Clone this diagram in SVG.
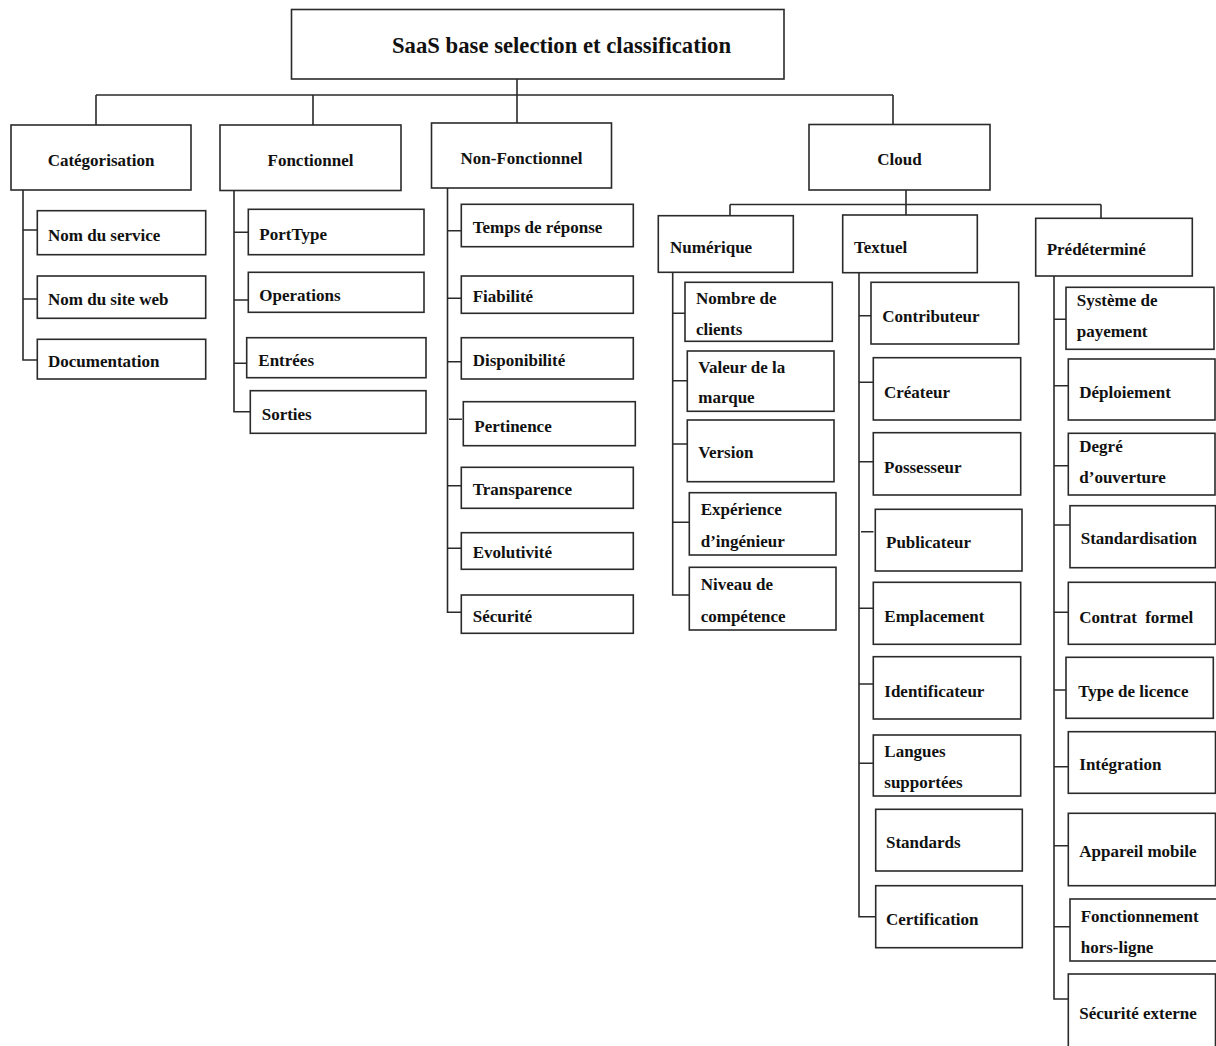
<svg xmlns="http://www.w3.org/2000/svg" width="1216" height="1046" viewBox="0 0 1216 1046">
  <style>
    .box { fill: #ffffff; stroke: #2a2a2a; stroke-width: 1.6; }
    .lbl { font-family: "Liberation Serif", "Times New Roman", serif; font-weight: bold; font-size: 17px; fill: #111111; }
    .mid { text-anchor: middle; }
    .title { font-size: 22.7px; }
    .conn { fill: none; stroke: #2a2a2a; stroke-width: 1.6; }
  </style>
  <rect width="1216" height="1046" fill="#ffffff"/>

  <!-- tree connectors -->
  <g id="connectors" class="conn">
    <path d="M517 79 V95 M96 95 H893 M96 95 V125 M313 95 V125 M517 95 V123 M893 95 V124.5"/>
    <!-- Catégorisation -->
    <path d="M23 190 V360 H37.3 M23 230 H37.3 M23 299 H37.3"/>
    <!-- Fonctionnel -->
    <path d="M234 191 V411.7 H250.3 M234 232.3 H248.3 M234 300 H248.3 M234 363.3 H246.7"/>
    <!-- Non-Fonctionnel -->
    <path d="M447.5 188 V612.3 H461.3 M447.5 230.7 H461.3 M447.5 298.3 H461.3 M447.5 361.7 H461.3 M449 419.3 H462 M447.5 485.7 H461.3 M447.5 548.3 H461.3"/>
    <!-- Cloud -->
    <path d="M906 190 V204.5 M730 204.5 H1101 M730 204.5 V215.7 M906 204.5 V215 M1101 204.5 V218.3"/>
    <!-- Numérique -->
    <path d="M672.7 272.3 V595 H689.3 M672.7 313.3 H685 M672.7 380.7 H687.3 M672.7 444 H687.3 M672.7 522.3 H689.3"/>
    <!-- Textuel -->
    <path d="M859 272.7 V916.7 H875.7 M859 315.7 H871 M859 382.3 H873.3 M859 461.7 H873.3 M861 531.7 H873.5 M859 608.3 H873.3 M859 684 H873.3 M859 763.3 H873.3"/>
    <!-- Prédéterminé -->
    <path d="M1054 276 V999 H1068.3 M1054 319.3 H1066 M1054 385.7 H1068.3 M1054 465.7 H1068.3 M1054 525 H1070 M1054 612.3 H1068.3 M1054 690 H1066 M1054 766.7 H1068.3 M1054 845.7 H1068.3 M1054 926.7 H1070"/>
  </g>

  <!-- root -->
  <g id="root">
    <rect class="box" x="291.5" y="9.5" width="492.5" height="69.5"/>
    <text class="lbl title" x="392" y="53">SaaS base selection et classification</text>
  </g>

  <!-- first level -->
  <g id="categorisation">
    <rect class="box" x="11" y="125" width="180" height="65"/>
    <text class="lbl mid" x="101" y="166">Catégorisation</text>
  </g>
  <g id="fonctionnel">
    <rect class="box" x="220" y="125" width="181" height="65.5"/>
    <text class="lbl mid" x="310.5" y="166">Fonctionnel</text>
  </g>
  <g id="non-fonctionnel">
    <rect class="box" x="431.5" y="123" width="180" height="65"/>
    <text class="lbl mid" x="521.5" y="164">Non-Fonctionnel</text>
  </g>
  <g id="cloud">
    <rect class="box" x="809" y="124.5" width="181" height="65.5"/>
    <text class="lbl mid" x="899.5" y="165">Cloud</text>
  </g>

  <!-- Cloud sub-categories -->
  <g id="numerique">
    <rect class="box" x="658.3" y="215.7" width="135" height="56.6"/>
    <text class="lbl" x="670" y="252.7">Numérique</text>
  </g>
  <g id="textuel">
    <rect class="box" x="842.7" y="215" width="134.6" height="57.7"/>
    <text class="lbl" x="854" y="252.7">Textuel</text>
  </g>
  <g id="predetermine">
    <rect class="box" x="1035.7" y="218.3" width="156.6" height="57.7"/>
    <text class="lbl" x="1046.7" y="255">Prédéterminé</text>
  </g>

  <!-- Catégorisation leaves -->
  <g id="nom-service">
    <rect class="box" x="37.3" y="210.7" width="168.4" height="44"/>
    <text class="lbl" x="48" y="240.7">Nom du service</text>
  </g>
  <g id="nom-site-web">
    <rect class="box" x="37.3" y="276" width="168.4" height="42.3"/>
    <text class="lbl" x="48" y="305">Nom du site web</text>
  </g>
  <g id="documentation">
    <rect class="box" x="37.3" y="339.3" width="168.4" height="39.7"/>
    <text class="lbl" x="48" y="366.7">Documentation</text>
  </g>

  <!-- Fonctionnel leaves -->
  <g id="porttype">
    <rect class="box" x="248.3" y="209.3" width="175.7" height="45.4"/>
    <text class="lbl" x="259.3" y="240">PortType</text>
  </g>
  <g id="operations">
    <rect class="box" x="248.3" y="272.3" width="175.7" height="40"/>
    <text class="lbl" x="259.3" y="301">Operations</text>
  </g>
  <g id="entrees">
    <rect class="box" x="246.7" y="337.7" width="179.3" height="40"/>
    <text class="lbl" x="258.3" y="365.7">Entrées</text>
  </g>
  <g id="sorties">
    <rect class="box" x="250.3" y="390.7" width="175.7" height="42.6"/>
    <text class="lbl" x="261.7" y="420">Sorties</text>
  </g>

  <!-- Non-Fonctionnel leaves -->
  <g id="temps-reponse">
    <rect class="box" x="461.3" y="204.3" width="172" height="42.4"/>
    <text class="lbl" x="472.7" y="233.3">Temps de réponse</text>
  </g>
  <g id="fiabilite">
    <rect class="box" x="461.3" y="276" width="172" height="37.3"/>
    <text class="lbl" x="472.7" y="301.7">Fiabilité</text>
  </g>
  <g id="disponibilite">
    <rect class="box" x="461.3" y="337.7" width="172" height="41.3"/>
    <text class="lbl" x="472.7" y="365.7">Disponibilité</text>
  </g>
  <g id="pertinence">
    <rect class="box" x="463.3" y="401.7" width="172" height="44"/>
    <text class="lbl" x="474.3" y="431.7">Pertinence</text>
  </g>
  <g id="transparence">
    <rect class="box" x="461.3" y="467.3" width="172" height="41"/>
    <text class="lbl" x="472.7" y="495">Transparence</text>
  </g>
  <g id="evolutivite">
    <rect class="box" x="461.3" y="532.7" width="172" height="36.6"/>
    <text class="lbl" x="472.7" y="558.3">Evolutivité</text>
  </g>
  <g id="securite">
    <rect class="box" x="461.3" y="595" width="172" height="38.3"/>
    <text class="lbl" x="472.7" y="621.7">Sécurité</text>
  </g>

  <!-- Numérique leaves -->
  <g id="nombre-clients">
    <rect class="box" x="685" y="282.3" width="147.3" height="59"/>
    <text class="lbl" x="696" y="304">Nombre de</text>
    <text class="lbl" x="696" y="335">clients</text>
  </g>
  <g id="valeur-marque">
    <rect class="box" x="687.3" y="351" width="146.7" height="60.3"/>
    <text class="lbl" x="698.3" y="372.7">Valeur de la</text>
    <text class="lbl" x="698.3" y="403.3">marque</text>
  </g>
  <g id="version">
    <rect class="box" x="687.3" y="420" width="146.7" height="61.7"/>
    <text class="lbl" x="698.3" y="458.3">Version</text>
  </g>
  <g id="experience-ingenieur">
    <rect class="box" x="689.3" y="492.7" width="146.7" height="62.3"/>
    <text class="lbl" x="700.7" y="515">Expérience</text>
    <text class="lbl" x="700.7" y="546.7">d’ingénieur</text>
  </g>
  <g id="niveau-competence">
    <rect class="box" x="689.3" y="567.3" width="146.7" height="62.7"/>
    <text class="lbl" x="700.7" y="590">Niveau de</text>
    <text class="lbl" x="700.7" y="621.7">compétence</text>
  </g>

  <!-- Textuel leaves -->
  <g id="contributeur">
    <rect class="box" x="871" y="282.3" width="147.7" height="61.7"/>
    <text class="lbl" x="882.3" y="321.7">Contributeur</text>
  </g>
  <g id="createur">
    <rect class="box" x="873.3" y="357.7" width="147.4" height="62.3"/>
    <text class="lbl" x="884" y="397.7">Créateur</text>
  </g>
  <g id="possesseur">
    <rect class="box" x="873.3" y="432.7" width="147.4" height="62.3"/>
    <text class="lbl" x="884" y="472.7">Possesseur</text>
  </g>
  <g id="publicateur">
    <rect class="box" x="875.3" y="509.3" width="146.7" height="61.7"/>
    <text class="lbl" x="886" y="548.3">Publicateur</text>
  </g>
  <g id="emplacement">
    <rect class="box" x="873.3" y="582.3" width="147.4" height="62"/>
    <text class="lbl" x="884.3" y="621.7">Emplacement</text>
  </g>
  <g id="identificateur">
    <rect class="box" x="873.3" y="656.7" width="147.4" height="62.3"/>
    <text class="lbl" x="884.3" y="696.7">Identificateur</text>
  </g>
  <g id="langues-supportees">
    <rect class="box" x="873.3" y="735" width="147.4" height="61"/>
    <text class="lbl" x="884.3" y="756.7">Langues</text>
    <text class="lbl" x="884.3" y="788.3">supportées</text>
  </g>
  <g id="standards">
    <rect class="box" x="875.7" y="809.3" width="146.6" height="61.7"/>
    <text class="lbl" x="886" y="848.3">Standards</text>
  </g>
  <g id="certification">
    <rect class="box" x="875.7" y="885.7" width="146.6" height="62"/>
    <text class="lbl" x="886" y="925">Certification</text>
  </g>

  <!-- Prédéterminé leaves -->
  <g id="systeme-payement">
    <rect class="box" x="1066" y="287.3" width="148" height="62"/>
    <text class="lbl" x="1076.7" y="306">Système de</text>
    <text class="lbl" x="1076.7" y="336.7">payement</text>
  </g>
  <g id="deploiement">
    <rect class="box" x="1068.3" y="359" width="146.7" height="61"/>
    <text class="lbl" x="1079.3" y="398.3">Déploiement</text>
  </g>
  <g id="degre-ouverture">
    <rect class="box" x="1068.3" y="433.3" width="146.7" height="61.7"/>
    <text class="lbl" x="1079.3" y="451.7">Degré</text>
    <text class="lbl" x="1079.3" y="483.3">d’ouverture</text>
  </g>
  <g id="standardisation">
    <rect class="box" x="1070" y="505.7" width="145.5" height="62"/>
    <text class="lbl" x="1080.7" y="544.3">Standardisation</text>
  </g>
  <g id="contrat-formel">
    <rect class="box" x="1068.3" y="582.3" width="147.2" height="62"/>
    <text class="lbl" x="1079.3" y="622.7" word-spacing="4">Contrat formel</text>
  </g>
  <g id="type-licence">
    <rect class="box" x="1066" y="657.3" width="147.3" height="61"/>
    <text class="lbl" x="1078.3" y="696.7">Type de licence</text>
  </g>
  <g id="integration">
    <rect class="box" x="1068.3" y="731.7" width="147.2" height="61.6"/>
    <text class="lbl" x="1079.3" y="770">Intégration</text>
  </g>
  <g id="appareil-mobile">
    <rect class="box" x="1068.3" y="813.3" width="147.2" height="72.4"/>
    <text class="lbl" x="1079.3" y="856.7">Appareil mobile</text>
  </g>
  <g id="fonctionnement-hors-ligne">
    <rect class="box" x="1070" y="899" width="147" height="62"/>
    <text class="lbl" x="1080.7" y="921.7">Fonctionnement</text>
    <text class="lbl" x="1080.7" y="953.3">hors-ligne</text>
  </g>
  <g id="securite-externe">
    <rect class="box" x="1068.3" y="974" width="147.2" height="76"/>
    <text class="lbl" x="1079.3" y="1019">Sécurité externe</text>
  </g>
</svg>
